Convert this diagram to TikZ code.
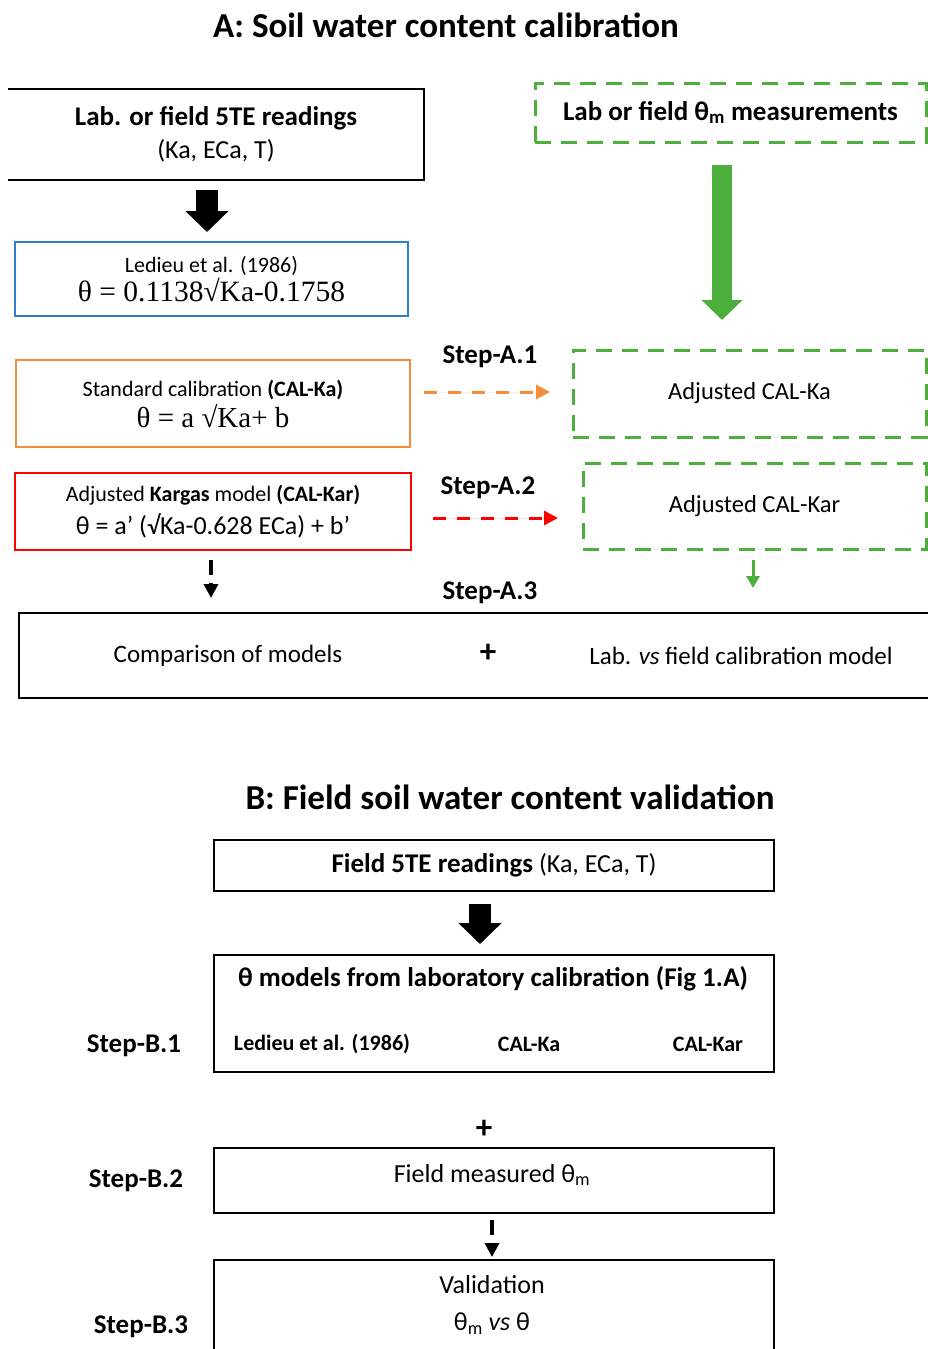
\documentclass[tikz,border=0pt]{standalone}
\usepackage{fontspec}
\setmainfont{Carlito}
\newfontfamily\eqfont{Liberation Serif}
\usetikzlibrary{arrows.meta,calc}
\definecolor{gbox}{RGB}{76,175,60}
\definecolor{cblue}{RGB}{48,125,210}
\definecolor{corange}{RGB}{244,140,60}
\definecolor{cred}{RGB}{255,0,0}
\newcommand\fsz[2]{\fontsize{#1}{#2}\selectfont}
\begin{document}
\begin{tikzpicture}[x=1pt,y=-1pt,
  bx/.style={inner sep=0pt, align=center, line width=1.8pt},
  gdash/.style={bx, draw=gbox, line width=3pt, dash pattern=on 16pt off 10pt},
  ttl/.style={inner sep=0pt, font=\fsz{35}{40}\bfseries},
  steplbl/.style={inner sep=0pt, font=\fsz{27}{32}\bfseries},
  plain/.style={inner sep=0pt, align=center, font=\fsz{25}{30}},
  plus/.style={inner sep=0pt, font=\fsz{33}{36}\bfseries},
  blockarr/.style={line width=22pt, -{Triangle[length=21pt,width=42pt]}},
  darr/.style={line width=3pt, dash pattern=on 13pt off 11pt, -{Triangle[length=14pt,width=14pt]}},
  karr/.style={line width=3.5pt, dash pattern=on 15pt off 8pt, -{Triangle[length=14pt,width=14pt]}}
]
\useasboundingbox (0,0) rectangle (928,1349);
\clip (0,0) rectangle (928,1349);
\fill[white] (0,0) rectangle (928,1349);

% ---------- Part A ----------
\node[ttl] (tA) at (446,25) {A: Soil water content calibration};

\node[bx, minimum width=414pt, minimum height=89pt, font=\fsz{26}{33}] (r5te) at (216,134.5)
  {{\bfseries\fontsize{27}{33}\selectfont Lab. or field 5TE readings}\\(Ka, ECa, T)};
\draw[line width=1.8pt] (r5te.north west) -- (r5te.north east) -- (r5te.south east) -- (r5te.south west);

\node[bx, draw=cblue, minimum width=393pt, minimum height=74pt, font=\fsz{22}{29}] (led) at (211.5,279)
  {Ledieu et al. (1986)\\{\eqfont\fontsize{29.5}{29}\selectfont θ = 0.1138√Ka-0.1758}};

\node[bx, draw=corange, minimum width=394pt, minimum height=87pt, font=\fsz{22}{31}] (std) at (213,403.5)
  {Standard calibration \textbf{(CAL-Ka)}\\{\eqfont\fontsize{29}{31}\selectfont θ = a √Ka+ b}};

\node[bx, draw=cred, minimum width=396pt, minimum height=77pt, font=\fsz{22}{33}] (kar) at (213,511.5)
  {Adjusted \textbf{Kargas} model \textbf{(CAL-Kar)}\\{\fontsize{26}{33}\selectfont θ = a’ (√Ka-0.628 ECa) + b’}};

\node[gdash, minimum width=391pt, minimum height=59pt, font=\fsz{27}{32}\bfseries] (meas) at (730.5,112.5)
  {Lab or field θ\textsubscript{m} measurements};

\node[gdash, minimum width=353pt, minimum height=87pt, font=\fsz{24.5}{30}] (adjka) at (749.5,393.5) {Adjusted CAL-Ka};
\node[gdash, minimum width=343pt, minimum height=86pt, font=\fsz{24.5}{30}] (adjkar) at (754.5,506) {Adjusted CAL-Kar};

\node[steplbl] (sA1) at (490,357) {Step-A.1};
\node[steplbl] (sA2) at (488,488) {Step-A.2};
\node[steplbl] (sA3) at (490,593) {Step-A.3};

\node[bx, draw, minimum width=916pt, minimum height=85pt] (cmp) at (477,655.5) {};
\node[plain] (cmpL) at (228,656) {Comparison of models};
\node[plus] (cmpP) at (488,653) {+};
\node[plain] (cmpR) at (741,656) {Lab. \textit{vs} field calibration model};

% arrows part A
\coordinate (a1s) at (207,190);
\coordinate (a1e) at (207,232);
\draw[blockarr] (a1s) -- (a1e);

\coordinate (g1s) at (722,165);
\coordinate (g1e) at (722,320);
\draw[draw=gbox, fill=gbox, line width=20pt, -{Triangle[length=20pt,width=40pt]}] (g1s) -- (g1e);

\coordinate (o1s) at (424,392);
\coordinate (o1e) at (550,392);
\draw[darr, draw=corange, fill=corange] (o1s) -- (o1e);

\coordinate (r1s) at (433,518);
\coordinate (r1e) at (558,518);
\draw[darr, draw=cred, fill=cred] (r1s) -- (r1e);

\coordinate (k1s) at (211,560);
\coordinate (k1e) at (211,598);
\draw[karr] (k1s) -- (k1e);

\coordinate (gs2) at (753,560);
\coordinate (ge2) at (753,588);
\draw[line width=3pt, draw=gbox, -{Triangle[length=12pt,width=13pt]}, fill=gbox] (gs2) -- (ge2);

% ---------- Part B ----------
\node[ttl] (tB) at (510,797) {B: Field soil water content validation};

\node[bx, draw, minimum width=560pt, minimum height=51pt, font=\fsz{26}{32}] (b1) at (494,865.5)
  {{\bfseries\fontsize{27}{32}\selectfont Field 5TE readings} (Ka, ECa, T)};

\coordinate (b1s) at (480,904);
\coordinate (b1e) at (480,944);
\draw[blockarr] (b1s) -- (b1e);

\node[bx, draw, minimum width=560pt, minimum height=117pt] (b2) at (494,1013.5) {};
\node[inner sep=0pt, font=\fsz{27}{32}\bfseries] (b2t) at (493,979) {θ models from laboratory calibration (Fig 1.A)};
\node[inner sep=0pt, font=\fsz{22}{26}\bfseries] (b2a) at (322,1044) {Ledieu et al. (1986)};
\node[inner sep=0pt, font=\fsz{22}{26}\bfseries] (b2b) at (529,1044) {CAL-Ka};
\node[inner sep=0pt, font=\fsz{22}{26}\bfseries] (b2c) at (708,1044) {CAL-Kar};
\node[steplbl] (sB1) at (134,1046) {Step-B.1};

\node[plus] (bplus) at (484,1129) {+};

\node[bx, draw, minimum width=560pt, minimum height=65pt] (b3) at (494,1180.5) {};
\node[plain, font=\fsz{26}{32}] (b3t) at (492,1175) {Field measured θ\textsubscript{m}};
\node[steplbl] (sB2) at (136,1181) {Step-B.2};

\coordinate (k2s) at (492,1220);
\coordinate (k2e) at (492,1257);
\draw[karr] (k2s) -- (k2e);

\node[bx, draw, minimum width=560pt, minimum height=110pt] (b4) at (494,1315) {};
\node[plain, font=\fsz{26}{37}] (b4t) at (492,1305) {Validation\\θ\textsubscript{m} \textit{vs} θ};
\node[steplbl] (sB3) at (141,1327) {Step-B.3};
\end{tikzpicture}
\end{document}
